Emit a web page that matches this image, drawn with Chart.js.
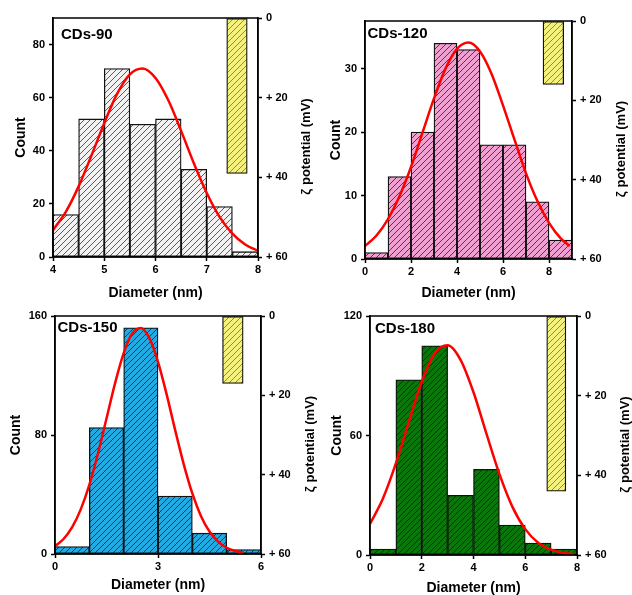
<!DOCTYPE html>
<html>
<head>
<meta charset="UTF-8">
<title>CDs size distribution</title>
<script src="https://cdn.jsdelivr.net/npm/chart.js@4.4.0/dist/chart.umd.min.js"></script>
<style>
body { margin:0; background:#fff; width:632px; height:595px; position:relative; overflow:hidden; }
canvas { position:absolute; }
</style>
</head>
<body>
<canvas id="c90" width="324" height="300" style="left:0;top:0"></canvas>
<canvas id="c120" width="316" height="300" style="left:316px;top:0"></canvas>
<canvas id="c150" width="324" height="295" style="left:0;top:300px"></canvas>
<canvas id="c180" width="316" height="295" style="left:316px;top:300px"></canvas>
<script>
// ---- data ----
// CDs-90
var bins90 = [4.25, 4.75, 5.25, 5.75, 6.25, 6.75, 7.25, 7.75];
var counts90 = [16, 52, 71, 50, 52, 33, 19, 2];
var fitX90 = [4, 4.25, 4.5, 4.75, 5, 5.25, 5.5, 5.75, 6, 6.25, 6.5, 6.75, 7, 7.25, 7.5, 7.75, 8];
var fitY90 = [10.1, 17.0, 26.6, 38.2, 50.4, 61.4, 68.8, 71.0, 67.4, 59.0, 47.5, 35.2, 24.1, 15.1, 8.8, 4.7, 2.3];
// CDs-120
var bins120 = [0.5, 1.5, 2.5, 3.5, 4.5, 5.5, 6.5, 7.5, 8.5];
var counts120 = [1, 13, 20, 34, 33, 18, 18, 9, 3];
var fitX120 = [0, 0.5, 1, 1.5, 2, 2.5, 3, 3.5, 4, 4.5, 5, 5.5, 6, 6.5, 7, 7.5, 8, 8.5, 8.9];
var fitY120 = [2.05, 3.7, 6.3, 9.9, 14.5, 19.9, 25.3, 30.0, 33.1, 34.1, 32.7, 29.2, 24.2, 18.8, 13.5, 9.1, 5.7, 3.3, 2.05];
// CDs-150
var bins150 = [0.5, 1.5, 2.5, 3.5, 4.5, 5.5];
var counts150 = [5, 85, 152, 39, 14, 3];
var fitX150 = [0, 0.25, 0.5, 0.75, 1, 1.25, 1.5, 1.75, 2, 2.25, 2.5, 2.75, 3, 3.25, 3.5, 3.75, 4, 4.25, 4.5, 4.75, 5, 5.25, 5.5];
var fitY150 = [5.3, 10.1, 18.0, 30.0, 46.5, 67.4, 91.1, 114.9, 135.1, 148.3, 152.0, 145.1, 129.2, 107.5, 83.3, 60.3, 40.7, 25.6, 15.1, 8.3, 4.2, 2.0, 0.9];
// CDs-180
var bins180 = [0.5, 1.5, 2.5, 3.5, 4.5, 5.5, 6.5, 7.5];
var counts180 = [3, 88, 105, 30, 43, 15, 6, 3];
var fitX180 = [0, 0.5, 1, 1.5, 2, 2.5, 3, 3.5, 4, 4.5, 5, 5.5, 6, 6.5, 7, 7.5, 7.9];
var fitY180 = [15.6, 28.4, 46.0, 66.9, 87.0, 101.2, 105.3, 98.0, 81.7, 60.9, 40.7, 24.3, 13.0, 6.2, 2.7, 1.0, 0.4];

// zeta potential bars (one per panel): centre x, width in nm, value in mV
var zetaX = [7.59, 8.19, 5.18, 7.2];
var zetaW = [0.4, 0.9, 0.6, 0.74];
var zetaVal = [39, 16, 17, 44];

// axis ticks
var xTicks90 = [4, 5, 6, 7, 8], yTicks90 = [0, 20, 40, 60, 80];
var xTicks120 = [0, 2, 4, 6, 8], yTicks120 = [0, 10, 20, 30];
var xTicks150 = [0, 3, 6], yTicks150 = [0, 80, 160];
var xTicks180 = [0, 2, 4, 6, 8], yTicks180 = [0, 60, 120];
var zTicks = [0, 20, 40, 60];

var FONT = '"Liberation Sans", Arial, sans-serif';
Chart.defaults.font.family = FONT;
Chart.defaults.color = '#000';

// diagonal hatch fill
function hatch(fill, line) {
	var c = document.createElement('canvas');
	c.width = 6; c.height = 6;
	var g = c.getContext('2d');
	g.fillStyle = fill;
	g.fillRect(0, 0, 6, 6);
	g.strokeStyle = line;
	g.lineWidth = 1;
	g.beginPath();
	g.moveTo(0, 6); g.lineTo(6, 0);
	g.moveTo(-3, 3); g.lineTo(3, -3);
	g.moveTo(3, 9); g.lineTo(9, 3);
	g.stroke();
	return g.createPattern(c, 'repeat');
}

// bar width comes from the bin width in data units, via the x scale
var binWidthPlugin = {
	id: 'binWidth',
	beforeDatasetsUpdate: function(chart) {
		var x = chart.scales.x;
		chart.data.datasets.forEach(function(ds) {
			if (ds.binWidth) {
				ds.barThickness = Math.abs(x.getPixelForValue(x.min + ds.binWidth) - x.getPixelForValue(x.min));
			}
		});
	}
};

// frame, panel name and the right-hand title (reads bottom to top)
var decor = {
	id: 'decor',
	afterDraw: function(chart, args, o) {
		var a = chart.chartArea, c = chart.ctx;
		c.save();
		c.strokeStyle = '#000';
		c.lineWidth = 1.5;
		c.strokeRect(a.left, a.top, a.right - a.left, a.bottom - a.top);
		c.fillStyle = '#000';
		c.font = 'bold 15px ' + FONT;
		c.textAlign = 'left';
		c.textBaseline = 'alphabetic';
		c.fillText(o.label, a.left + o.dx, a.top + o.dy);
		c.translate(o.zx, (a.top + a.bottom) / 2 + 9);
		c.rotate(-Math.PI / 2);
		c.font = 'bold 13px ' + FONT;
		c.textAlign = 'center';
		c.textBaseline = 'middle';
		c.fillText('ζ potential (mV)', 0, 0);
		c.restore();
	}
};

function tickFont() { return { family: FONT, size: 11, weight: 'bold' }; }

function buildChart(id, p) {
	var ctx = document.getElementById(id).getContext('2d');
	return new Chart(ctx, {
		type: 'bar',
		data: {
			datasets: [{
				type: 'line',
				data: p.fitX.map(function(x, i) { return { x: x, y: p.fitY[i] }; }),
				borderColor: '#ff0000',
				borderWidth: 2.5,
				pointRadius: 0,
				cubicInterpolationMode: 'monotone',
				xAxisID: 'x', yAxisID: 'y',
				order: 0
			}, {
				data: p.bins.map(function(x, i) { return { x: x, y: p.counts[i] }; }),
				binWidth: p.binWidth,
				backgroundColor: hatch(p.fill, p.line),
				borderColor: '#111',
				borderWidth: 1.3,
				borderSkipped: false,
				grouped: false,
				xAxisID: 'x', yAxisID: 'y',
				order: 2
			}, {
				data: [{ x: p.zX, y: p.zV }],
				binWidth: p.zW,
				backgroundColor: hatch('#f4f27c', '#85857a'),
				borderColor: '#111',
				borderWidth: 1.3,
				borderSkipped: false,
				grouped: false,
				xAxisID: 'x', yAxisID: 'yz',
				order: 1
			}]
		},
		options: {
			responsive: false,
			animation: false,
			layout: { padding: { top: p.padTop, left: 0, right: 0, bottom: 0 } },
			plugins: {
				legend: { display: false },
				tooltip: { enabled: false },
				decor: { label: p.label, dx: p.dx, dy: p.dy, zx: p.zx }
			},
			scales: {
				x: {
					type: 'linear', position: 'bottom',
					min: p.xMin, max: p.xMax, offset: false,
					grid: { drawOnChartArea: false, offset: false, tickLength: 4, tickColor: '#000', tickWidth: 1.5 },
					border: { display: true, color: '#000', width: 1.5 },
					ticks: { font: tickFont(), color: '#000', padding: 2, maxRotation: 0, autoSkip: false },
					afterBuildTicks: function(s) { s.ticks = p.xTicks.map(function(v) { return { value: v }; }); },
					afterFit: function(s) { s.height = p.xH; },
					title: { display: true, text: 'Diameter (nm)', color: '#000',
						font: { family: FONT, size: 14, weight: 'bold', lineHeight: 1 },
						padding: { top: 0, bottom: p.xTitlePad } }
				},
				y: {
					type: 'linear', position: 'left',
					min: 0, max: p.yMax,
					grid: { drawOnChartArea: false, tickLength: 4, tickColor: '#000', tickWidth: 1.5 },
					border: { display: true, color: '#000', width: 1.5 },
					ticks: { font: tickFont(), color: '#000', padding: 4 },
					afterBuildTicks: function(s) { s.ticks = p.yTicks.map(function(v) { return { value: v }; }); },
					afterFit: function(s) { s.width = p.yW; },
					title: { display: true, text: 'Count', color: '#000',
						font: { family: FONT, size: 14, weight: 'bold', lineHeight: 1 },
						padding: { top: p.countPad, bottom: 0 } }
				},
				yz: {
					type: 'linear', position: 'right',
					min: 0, max: 60, reverse: true,
					grid: { drawOnChartArea: false, tickLength: 4, tickColor: '#000', tickWidth: 1.5 },
					border: { display: true, color: '#000', width: 1.5 },
					ticks: { font: tickFont(), color: '#000', padding: 4,
						callback: function(v) { return v === 0 ? '0' : '+ ' + v; } },
					afterBuildTicks: function(s) { s.ticks = zTicks.map(function(v) { return { value: v }; }); },
					afterFit: function(s) { s.width = p.zWidth; }
				}
			}
		},
		plugins: [binWidthPlugin, decor]
	});
}

buildChart('c90', {
	bins: bins90, counts: counts90, binWidth: 0.5, fitX: fitX90, fitY: fitY90,
	zX: zetaX[0], zW: zetaW[0], zV: zetaVal[0],
	xMin: 4, xMax: 8, yMax: 90, xTicks: xTicks90, yTicks: yTicks90,
	fill: '#f2f2f2', line: '#5c5c5c', label: 'CDs-90',
	padTop: 18, yW: 53, zWidth: 66, xH: 43, countPad: 14.5, xTitlePad: 0, zx: 306, dx: 8, dy: 21
});
buildChart('c120', {
	bins: bins120, counts: counts120, binWidth: 1, fitX: fitX120, fitY: fitY120,
	zX: zetaX[1], zW: zetaW[1], zV: zetaVal[1],
	xMin: 0, xMax: 9, yMax: 37.5, xTicks: xTicks120, yTicks: yTicks120,
	fill: '#f0a0d0', line: '#5a3550', label: 'CDs-120',
	padTop: 21, yW: 49, zWidth: 60, xH: 41, countPad: 13, xTitlePad: 0, zx: 305, dx: 2.5, dy: 17
});
buildChart('c150', {
	bins: bins150, counts: counts150, binWidth: 1, fitX: fitX150, fitY: fitY150,
	zX: zetaX[2], zW: zetaW[2], zV: zetaVal[2],
	xMin: 0, xMax: 6, yMax: 160, xTicks: xTicks150, yTicks: yTicks150,
	fill: '#22aae3', line: '#15395a', label: 'CDs-150',
	padTop: 16, yW: 55, zWidth: 63, xH: 41, countPad: 9.5, xTitlePad: 3, zx: 310, dx: 2.5, dy: 16
});
buildChart('c180', {
	bins: bins180, counts: counts180, binWidth: 1, fitX: fitX180, fitY: fitY180,
	zX: zetaX[3], zW: zetaW[3], zV: zetaVal[3],
	xMin: 0, xMax: 8, yMax: 120, xTicks: xTicks180, yTicks: yTicks180,
	fill: '#0b760b', line: '#063806', label: 'CDs-180',
	padTop: 16, yW: 54, zWidth: 55, xH: 40, countPad: 14.5, xTitlePad: 0, zx: 309, dx: 5, dy: 17
});
</script>
</body>
</html>
